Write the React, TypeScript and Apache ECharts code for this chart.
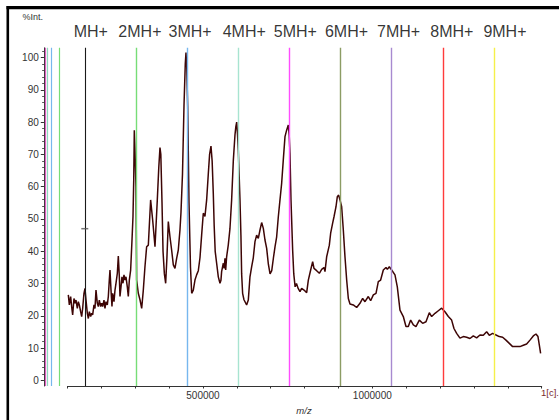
import React, { useEffect, useRef } from "react";
import * as echarts from "echarts";

// m/z values (Da) and relative intensity (%)
const mz = [
  102400, 105400, 109300, 112200, 115200, 119100, 122100, 125000, 129000, 131900,
  134900, 138800, 141800, 144700, 148600, 151600, 154600, 158500, 161500, 164400,
  168300, 171300, 174200, 178200, 181100, 184100, 188000, 191000, 193900, 197900,
  200800, 203800, 207700, 210600, 213600, 217500, 220500, 223400, 225400, 228400,
  231300, 233300, 237200, 240200, 243100, 247100, 250000, 253000, 254900, 257900,
  260800, 263800, 266700, 269700, 272600, 276600, 279500, 282500, 286400, 290400,
  293300, 295500, 297200, 299000, 302200, 304100, 309000, 314000, 319000, 323800,
  328500, 333600, 338600, 345400, 351400, 358300, 365100, 369500, 373000, 375500,
  379000, 382000, 386000, 389800, 393500, 397600, 402500, 407400, 412400, 417300,
  422200, 427100, 432000, 435000, 439500, 443900, 447700, 449800, 452000, 454800,
  458700, 463100, 466600, 471400, 476300, 481200, 486200, 491100, 496000, 500900,
  505800, 510800, 515700, 519500, 523600, 527000, 530400, 533000, 536000, 540300,
  545200, 550100, 553000, 555000, 560000, 562500, 564900, 567000, 569800, 574700,
  579600, 584600, 589500, 594400, 597000, 599500, 602000, 604200, 609200, 612000,
  614100, 617000, 621000, 628800, 633800, 638700, 643600, 648500, 653500, 658400,
  663300, 668300, 673200, 678100, 683000, 688000, 693000, 698000, 703000, 708000,
  712600, 717500, 722400, 727300, 732200, 737100, 742100, 747000, 751900, 754500,
  756800, 759800, 764700, 768000, 772000, 776000, 781000, 786400, 791300, 798200,
  806100, 811000, 817900, 823800, 827700, 835600, 843500, 850400, 857200, 860200,
  865100, 873000, 876900, 882800, 886800, 892700, 896600, 900500, 904500, 909400,
  914300, 919200, 924200, 929100, 934000, 943800, 953700, 963500, 971400, 978300,
  988100, 995000, 1002900, 1010800, 1017600, 1024500, 1032400, 1040300, 1044200, 1050100,
  1057000, 1066800, 1073700, 1081600, 1091400, 1099300, 1106200, 1113100, 1121000, 1128800,
  1138700, 1148500, 1158400, 1168200, 1175100, 1185000, 1194800, 1204600, 1214400, 1224300,
  1234100, 1241000, 1248900, 1258700, 1268600, 1278400, 1288200, 1298100, 1307900, 1317800,
  1327600, 1337400, 1345300, 1355200, 1365000, 1374800, 1384700, 1394500, 1404400, 1414200,
  1426000, 1435800, 1445700, 1455500, 1465400, 1475200, 1483100, 1489000, 1492900, 1496800,
];
const intensity = [
  26.5, 23.4, 26.0, 22.9, 20.3, 25.4, 23.9, 24.9, 22.3, 24.4,
  23.4, 21.3, 19.8, 22.3, 27.0, 28.5, 24.9, 20.8, 19.2, 21.3,
  19.8, 20.8, 20.3, 23.4, 22.3, 28.0, 23.9, 22.9, 24.9, 22.9,
  23.9, 22.9, 24.9, 22.3, 24.4, 23.4, 26.0, 31.1, 34.2, 28.0,
  22.9, 27.0, 24.4, 28.0, 30.1, 33.2, 38.5, 32.1, 26.0, 29.0,
  32.1, 30.1, 32.7, 31.1, 32.1, 29.0, 26.0, 31.1, 34.2, 43.5,
  50.7, 62.0, 77.5, 72.0, 60.0, 31.1, 27.0, 25.0, 22.3, 28.0,
  35.0, 41.4, 41.9, 55.9, 49.7, 41.4, 55.9, 66.0, 72.1, 70.0,
  55.0, 40.0, 33.0, 30.1, 38.0, 49.2, 44.5, 40.4, 35.8, 34.7,
  37.8, 40.4, 46.6, 52.0, 64.0, 85.0, 98.0, 101.5, 97.0, 85.0,
  55.0, 35.0, 27.0, 28.0, 31.1, 32.7, 34.0, 38.0, 45.0, 51.8,
  50.8, 55.9, 64.0, 70.0, 72.6, 68.0, 58.0, 48.0, 40.0, 36.3,
  32.1, 30.1, 31.0, 33.7, 36.3, 34.7, 37.8, 34.2, 38.3, 42.0,
  47.0, 56.0, 68.0, 76.0, 78.6, 80.0, 76.0, 71.4, 56.0, 45.0,
  33.0, 27.0, 25.0, 23.4, 24.9, 32.1, 35.2, 38.0, 43.0, 45.0,
  44.0, 46.6, 48.9, 47.1, 43.5, 40.9, 36.0, 33.0, 34.0, 38.0,
  41.4, 44.5, 50.7, 55.9, 61.0, 68.3, 75.5, 77.5, 79.1, 76.0,
  70.3, 55.9, 40.4, 33.0, 29.0, 30.0, 28.5, 27.5, 28.5, 28.0,
  27.2, 31.1, 34.2, 36.8, 34.7, 34.0, 33.2, 34.4, 35.0, 33.7,
  38.3, 41.9, 45.6, 48.7, 50.7, 53.8, 56.9, 57.4, 55.9, 53.8,
  46.6, 38.3, 31.1, 25.4, 23.7, 23.4, 22.6, 23.9, 25.4, 24.4,
  26.0, 24.7, 26.5, 27.0, 30.6, 31.1, 34.2, 35.0, 34.4, 35.2,
  34.2, 32.7, 29.0, 21.8, 19.8, 16.7, 16.7, 18.7, 17.2, 16.7,
  18.7, 17.7, 18.2, 21.0, 19.8, 20.8, 21.6, 22.4, 21.3, 19.8,
  18.7, 16.1, 14.6, 13.1, 13.6, 13.4, 13.0, 13.8, 13.2, 14.1,
  14.0, 15.1, 14.0, 14.6, 14.1, 13.6, 13.4, 12.5, 11.5, 10.5,
  10.5, 10.5, 10.9, 11.3, 12.5, 13.8, 14.4, 13.6, 11.0, 8.4,
];

// charge-state annotation lines
const ionLabels = ["MH+", "2MH+", "3MH+", "4MH+", "5MH+", "6MH+", "7MH+", "8MH+", "9MH+"];
const ionPositions = [151000, 302000, 453000, 604000, 755000, 906000, 1057000, 1208000, 1359000];
const ionColors = ["#1a1a1a", "#77dd77", "#77b7ee", "#a8e4d0", "#ff4dff", "#8c9c64", "#a88ad0", "#ff3b3b", "#f5f04a"];
// multiply charged (M/2 .. M/5) lines left of the spectrum
const fractionPositions = [77000, 53000, 40000, 33500];
const fractionColors = ["#77dd77", "#77b7ee", "#8fd8c0", "#e060c0"];
const labelNudge = [6, 4, 3, 6, 6, 6, 7, 9, 11];

const yMajor = [0, 10, 20, 30, 40, 50, 60, 70, 80, 90, 100];
const yMinor = [0, 2, 4, 6, 8, 10, 12, 14, 16, 18, 20, 22, 24, 26, 28, 30, 32, 34, 36, 38, 40, 42, 44, 46, 48, 50,
  52, 54, 56, 58, 60, 62, 64, 66, 68, 70, 72, 74, 76, 78, 80, 82, 84, 86, 88, 90, 92, 94, 96, 98, 100, 102];
const xLabels = [500000, 1000000];
const thresholdMark = [151000, 47];

const FONT = "'Liberation Sans', Arial, Helvetica, sans-serif";

export default function App() {
  const ref = useRef<HTMLDivElement>(null);
  useEffect(() => {
    if (!ref.current) return;
    const chart = echarts.init(ref.current, undefined, { renderer: "svg" });
    const lineData = [
      ...ionPositions.map((v, i) => ({ xAxis: v, lineStyle: { color: ionColors[i], width: i === 0 ? 1.1 : 1.4, type: "solid" } })),
      ...fractionPositions.map((v, i) => ({ xAxis: v, lineStyle: { color: fractionColors[i], width: 1.2, type: "solid" } })),
    ];
    chart.setOption({
      animation: false,
      backgroundColor: "#ffffff",
      grid: [
        { left: 43.8, right: 17.3, top: 47.8, bottom: 34 },
        { left: 67.5, right: 17.3, top: 47.8, bottom: 34 },
      ],
      xAxis: [
        { type: "value", gridIndex: 0, min: 30000, max: 1500000, show: false },
        {
          type: "value", gridIndex: 1, min: 100000, max: 1500000, interval: 100000,
          axisLine: { show: true, onZero: false, lineStyle: { color: "#333", width: 1 } },
          axisTick: { show: true, length: 2.5, lineStyle: { color: "#333" } },
          axisLabel: { customValues: xLabels, formatter: (v: number) => String(v), fontSize: 10, color: "#333", margin: 4, fontFamily: FONT },
          splitLine: { show: false },
        },
      ],
      yAxis: [
        {
          type: "value", gridIndex: 0, position: "left", min: -1.7, max: 103,
          axisLine: { show: true, onZero: false, lineStyle: { color: "#333", width: 1 } },
          axisTick: { show: true, customValues: yMajor, length: 3, lineStyle: { color: "#333" } },
          axisLabel: { customValues: yMajor, fontSize: 10, color: "#333", margin: 5, fontFamily: FONT },
          splitLine: { show: false },
        },
        {
          type: "value", gridIndex: 0, position: "left", offset: 0, min: -1.7, max: 103,
          axisLine: { show: false },
          axisTick: { show: true, customValues: yMinor, length: 1.5, lineStyle: { color: "#333" } },
          axisLabel: { show: false },
          splitLine: { show: false },
        },
        { type: "value", gridIndex: 1, min: 0, max: 1, show: false },
      ],
      series: [
        {
          type: "line", xAxisIndex: 0, yAxisIndex: 0, data: [], z: 1, silent: true,
          markLine: { silent: true, symbol: ["none", "none"], label: { show: false }, animation: false, data: lineData },
        },
        {
          type: "line", xAxisIndex: 0, yAxisIndex: 0, z: 3,
          data: mz.map((x, i) => [x, intensity[i]]),
          showSymbol: false, symbol: "none",
          lineStyle: { color: "#3d0505", width: 1.5 },
        },
        {
          type: "scatter", xAxisIndex: 0, yAxisIndex: 0, z: 4, symbolSize: 0.01, silent: true,
          data: ionPositions.map((x, i) => ({ value: [x, 103], label: { offset: [labelNudge[i], 0] } })),
          label: {
            show: true, position: "top", distance: 8, fontSize: 16, color: "#000", fontFamily: FONT,
            formatter: (p: any) => ionLabels[p.dataIndex],
          },
        },
        {
          type: "scatter", xAxisIndex: 0, yAxisIndex: 0, z: 5, silent: true,
          symbol: "rect", symbolSize: [7, 1.5], itemStyle: { color: "#555" },
          data: [thresholdMark],
        },
      ],
      graphic: [
        { type: "rect", shape: { x: 6.5, y: 6, width: 553, height: 3.2 }, style: { fill: "#000" } },
        { type: "rect", shape: { x: 6.5, y: 6, width: 2.6, height: 414 }, style: { fill: "#000" } },
        { type: "text", x: 22.5, y: 17, style: { text: "%Int.", fontSize: 9, fill: "#333", fontFamily: FONT, textVerticalAlign: "middle" } },
        { type: "text", x: 304, y: 410, style: { text: "m/z", fontSize: 9.5, fontStyle: "italic", fill: "#333", fontFamily: FONT, textAlign: "center", textVerticalAlign: "middle" } },
        { type: "text", x: 541, y: 392, style: { text: "1[c].", fontSize: 9.5, fill: "#7a2c2c", fontFamily: FONT, textVerticalAlign: "middle" } },
      ],
    });
    return () => chart.dispose();
  }, []);
  return <div ref={ref} style={{ position: "fixed", left: 0, top: 0, width: 559, height: 420 }} />;
}
